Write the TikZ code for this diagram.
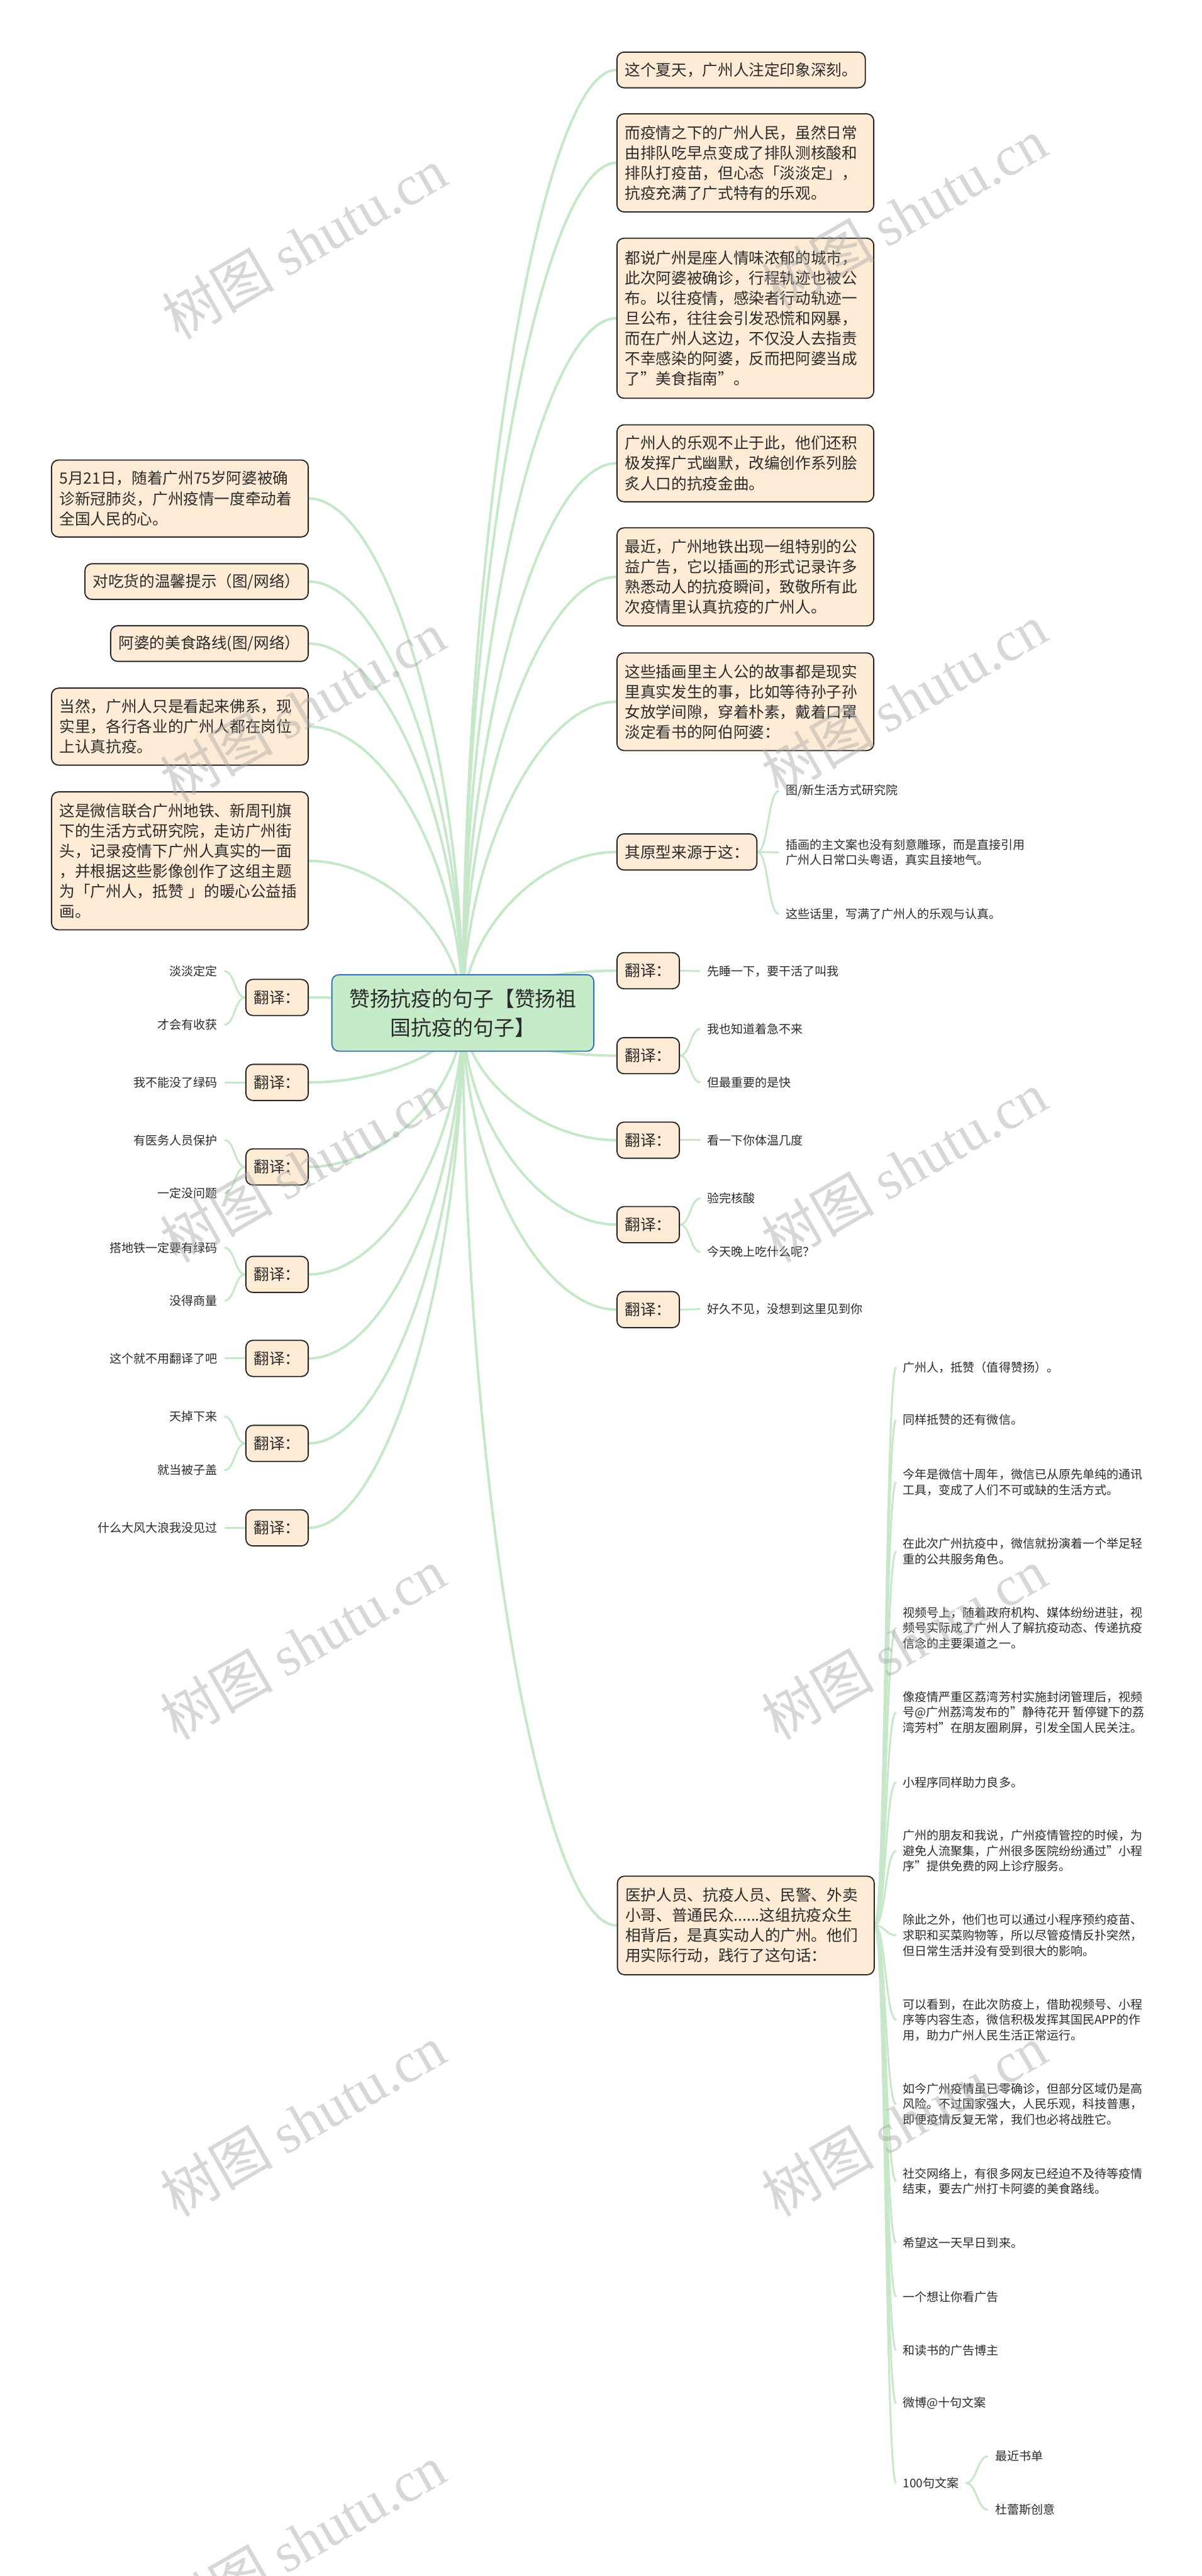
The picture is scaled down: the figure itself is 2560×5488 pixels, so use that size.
\documentclass[tikz,border=0pt]{standalone}
\usepackage{fontspec}
\setmainfont{Noto Sans CJK SC}
\newfontfamily\wmserif{Liberation Serif}
\usetikzlibrary{calc,backgrounds}
\definecolor{boxfill}{HTML}{FEEBD5}
\definecolor{boxline}{HTML}{262626}
\definecolor{rootfill}{HTML}{C5EBC9}
\definecolor{rootline}{HTML}{3471B8}
\definecolor{branch}{HTML}{C6E8C8}
\definecolor{txt}{HTML}{2B2B2B}
\definecolor{wmgray}{HTML}{A8A8A8}
\newcommand\mainfs{\fontsize{9.9}{12.9}\selectfont}
\newcommand\smallfs{\fontsize{7.65}{9.9}\selectfont}
\newcommand\rootfs{\fontsize{13.2}{18.6}\selectfont}
\begin{document}
\begin{tikzpicture}[x=0.3pt,y=-0.3pt,
  box/.style={draw=boxline, line width=0.75pt, fill=boxfill, rounded corners=4.5pt,
    inner xsep=5.1pt, inner ysep=0pt, align=left, font=\mainfs, text=txt},
  widebox/.style={box, text width=153.9pt},
  tbox/.style={box, minimum height=23.1pt},
  rootbox/.style={draw=rootline, line width=0.75pt, fill=rootfill, rounded corners=4.5pt,
    minimum width=167.4pt, minimum height=48.9pt, align=center, font=\rootfs, inner sep=0pt, text=txt},
  leaf/.style={inner xsep=4.2pt, inner ysep=0pt, font=\smallfs, align=left, text=txt},
  mainline/.style={draw=branch, line width=1.6pt},
  subline/.style={draw=branch, line width=1.2pt},
  rootcurve/.style={to path={.. controls ($(\tikztostart)!0.5!(\tikztostart |- \tikztotarget)$) and ($(\tikztostart |- \tikztotarget)!0.5!(\tikztotarget)$) .. (\tikztotarget) \tikztonodes}},
  scurve/.style={to path={.. controls ($(\tikztostart)!0.5!(\tikztostart -| \tikztotarget)$) and ($(\tikztotarget)!0.5!(\tikztotarget -| \tikztostart)$) .. (\tikztotarget) \tikztonodes}},
  wmark/.style={text=wmgray, opacity=0.45, font=\fontsize{36}{40}\selectfont, rotate=30, inner sep=0pt}
]
\begin{scope}[on background layer]
\fill[white] (0,0) rectangle (2560,5488);
\end{scope}
\useasboundingbox (0,0) rectangle (2560,5488);

% root
\node[rootbox] (root) at (986,2158) {赞扬抗疫的句子【赞扬祖\\国抗疫的句子】};

% right boxes
\node[box, anchor=west, minimum height=22.8pt] (R1) at (1313,149) {这个夏天，广州人注定印象深刻。};
\node[widebox, anchor=west, minimum height=62.7pt] (R2) at (1313,347) {而疫情之下的广州人民，虽然日常\\由排队吃早点变成了排队测核酸和\\排队打疫苗，但心态「淡淡定」，\\抗疫充满了广式特有的乐观。};
\node[widebox, anchor=west, minimum height=102.3pt] (R3) at (1313,678) {都说广州是座人情味浓郁的城市，\\此次阿婆被确诊，行程轨迹也被公\\布。以往疫情，感染者行动轨迹一\\旦公布，往往会引发恐慌和网暴，\\而在广州人这边，不仅没人去指责\\不幸感染的阿婆，反而把阿婆当成\\了"美食指南"。};
\node[widebox, anchor=west, minimum height=49.2pt] (R4) at (1313,987) {广州人的乐观不止于此，他们还积\\极发挥广式幽默，改编创作系列脍\\炙人口的抗疫金曲。};
\node[widebox, anchor=west, minimum height=62.7pt] (R5) at (1313,1229) {最近，广州地铁出现一组特别的公\\益广告，它以插画的形式记录许多\\熟悉动人的抗疫瞬间，致敬所有此\\次疫情里认真抗疫的广州人。};
\node[widebox, anchor=west, minimum height=62.4pt] (R6) at (1313,1495) {这些插画里主人公的故事都是现实\\里真实发生的事，比如等待孙子孙\\女放学间隙，穿着朴素，戴着口罩\\淡定看书的阿伯阿婆：};
\node[tbox, anchor=west] (Q) at (1313,1815) {其原型来源于这：};
\node[leaf, anchor=west] (q1) at (1659,1685) {图/新生活方式研究院};
\node[leaf, anchor=west] (q2) at (1659,1816) {插画的主文案也没有刻意雕琢，而是直接引用\\广州人日常口头粤语，真实且接地气。};
\node[leaf, anchor=west] (q3) at (1659,1947) {这些话里，写满了广州人的乐观与认真。};

% right translation boxes
\node[tbox, anchor=west] (T1) at (1313,2068) {翻译：};
\node[tbox, anchor=west] (T2) at (1313,2249) {翻译：};
\node[tbox, anchor=west] (T3) at (1313,2429) {翻译：};
\node[tbox, anchor=west] (T4) at (1313,2609) {翻译：};
\node[tbox, anchor=west] (T5) at (1313,2790) {翻译：};
\node[leaf, anchor=west] (t1) at (1492,2069) {先睡一下，要干活了叫我};
\node[leaf, anchor=west] (t2a) at (1492,2192) {我也知道着急不来};
\node[leaf, anchor=west] (t2b) at (1492,2306) {但最重要的是快};
\node[leaf, anchor=west] (t3) at (1492,2429) {看一下你体温几度};
\node[leaf, anchor=west] (t4a) at (1492,2553) {验完核酸};
\node[leaf, anchor=west] (t4b) at (1492,2667) {今天晚上吃什么呢？};
\node[leaf, anchor=west] (t5) at (1492,2789) {好久不见，没想到这里见到你};

% big box and its list
\node[widebox, anchor=west, minimum height=63pt] (B) at (1314,4102) {医护人员、抗疫人员、民警、外卖\\小哥、普通民众......这组抗疫众生\\相背后，是真实动人的广州。他们\\用实际行动，践行了这句话：};
\node[leaf, anchor=west] (b1) at (1909,2913) {广州人，抵赞（值得赞扬）。};
\node[leaf, anchor=west] (b2) at (1909,3025) {同样抵赞的还有微信。};
\node[leaf, anchor=west] (b3) at (1909,3158) {今年是微信十周年，微信已从原先单纯的通讯\\工具，变成了人们不可或缺的生活方式。};
\node[leaf, anchor=west] (b4) at (1909,3305) {在此次广州抗疫中，微信就扮演着一个举足轻\\重的公共服务角色。};
\node[leaf, anchor=west] (b5) at (1909,3468) {视频号上，随着政府机构、媒体纷纷进驻，视\\频号实际成了广州人了解抗疫动态、传递抗疫\\信念的主要渠道之一。};
\node[leaf, anchor=west] (b6) at (1909,3648) {像疫情严重区荔湾芳村实施封闭管理后，视频\\号@广州荔湾发布的"静待花开 暂停键下的荔\\湾芳村"在朋友圈刷屏，引发全国人民关注。};
\node[leaf, anchor=west] (b7) at (1909,3797) {小程序同样助力良多。};
\node[leaf, anchor=west] (b8) at (1909,3943) {广州的朋友和我说，广州疫情管控的时候，为\\避免人流聚集，广州很多医院纷纷通过"小程\\序"提供免费的网上诊疗服务。};
\node[leaf, anchor=west] (b9) at (1909,4123) {除此之外，他们也可以通过小程序预约疫苗、\\求职和买菜购物等，所以尽管疫情反扑突然，\\但日常生活并没有受到很大的影响。};
\node[leaf, anchor=west] (b10) at (1909,4303) {可以看到，在此次防疫上，借助视频号、小程\\序等内容生态，微信积极发挥其国民APP的作\\用，助力广州人民生活正常运行。};
\node[leaf, anchor=west] (b11) at (1909,4483) {如今广州疫情虽已零确诊，但部分区域仍是高\\风险。不过国家强大，人民乐观，科技普惠，\\即便疫情反复无常，我们也必将战胜它。};
\node[leaf, anchor=west] (b12) at (1909,4647) {社交网络上，有很多网友已经迫不及待等疫情\\结束，要去广州打卡阿婆的美食路线。};
\node[leaf, anchor=west] (b13) at (1909,4778) {希望这一天早日到来。};
\node[leaf, anchor=west] (b14) at (1909,4893) {一个想让你看广告};
\node[leaf, anchor=west] (b15) at (1909,5007) {和读书的广告博主};
\node[leaf, anchor=west] (b16) at (1909,5120) {微博@十句文案};
\node[leaf, anchor=west] (b17) at (1909,5290) {100句文案};
\node[leaf, anchor=west] (b17a) at (2105,5233) {最近书单};
\node[leaf, anchor=west] (b17b) at (2105,5347) {杜蕾斯创意};

% left boxes
\node[widebox, anchor=east, minimum height=49.2pt] (L1) at (658,1062) {5月21日，随着广州75岁阿婆被确\\诊新冠肺炎，广州疫情一度牵动着\\全国人民的心。};
\node[box, anchor=east, minimum height=22.8pt] (L2) at (658,1239) {对吃货的温馨提示（图/网络）};
\node[box, anchor=east, minimum height=22.8pt] (L3) at (658,1371) {阿婆的美食路线(图/网络）};
\node[widebox, anchor=east, minimum height=49.2pt] (L4) at (658,1548) {当然，广州人只是看起来佛系，现\\实里，各行各业的广州人都在岗位\\上认真抗疫。};
\node[widebox, anchor=east, minimum height=88.2pt] (L5) at (658,1834) {这是微信联合广州地铁、新周刊旗\\下的生活方式研究院，走访广州街\\头，记录疫情下广州人真实的一面\\，并根据这些影像创作了这组主题\\为「广州人，抵赞 」的暖心公益插\\画。};

% left translation boxes
\node[tbox, anchor=east] (LT1) at (658,2125) {翻译：};
\node[tbox, anchor=east] (LT2) at (658,2306) {翻译：};
\node[tbox, anchor=east] (LT3) at (658,2486) {翻译：};
\node[tbox, anchor=east] (LT4) at (658,2715) {翻译：};
\node[tbox, anchor=east] (LT5) at (658,2894) {翻译：};
\node[tbox, anchor=east] (LT6) at (658,3075) {翻译：};
\node[tbox, anchor=east] (LT7) at (658,3255) {翻译：};
\node[leaf, anchor=east] (l1a) at (478,2069) {淡淡定定};
\node[leaf, anchor=east] (l1b) at (478,2183) {才会有收获};
\node[leaf, anchor=east] (l2) at (478,2306) {我不能没了绿码};
\node[leaf, anchor=east] (l3a) at (478,2429) {有医务人员保护};
\node[leaf, anchor=east] (l3b) at (478,2542) {一定没问题};
\node[leaf, anchor=east] (l4a) at (478,2658) {搭地铁一定要有绿码};
\node[leaf, anchor=east] (l4b) at (478,2771) {没得商量};
\node[leaf, anchor=east] (l5) at (478,2894) {这个就不用翻译了吧};
\node[leaf, anchor=east] (l6a) at (478,3018) {天掉下来};
\node[leaf, anchor=east] (l6b) at (478,3132) {就当被子盖};
\node[leaf, anchor=east] (l7) at (478,3255) {什么大风大浪我没见过};

% connectors
\begin{scope}[on background layer]
\foreach \n in {R1,R2,R3,R4,R5,R6,Q,T1,T2,T3,T4,T5,B}
  \draw[mainline] (root.center) to[rootcurve] (\n.west);
\foreach \n in {L1,L2,L3,L4,L5,LT1,LT2,LT3,LT4,LT5,LT6,LT7}
  \draw[mainline] (root.center) to[rootcurve] (\n.east);
\foreach \n in {q1,q2,q3}
  \draw[subline] (Q.east) to[scurve] (\n.west);
\draw[subline] (T1.east) to[scurve] (t1.west);
\draw[subline] (T2.east) to[scurve] (t2a.west);
\draw[subline] (T2.east) to[scurve] (t2b.west);
\draw[subline] (T3.east) to[scurve] (t3.west);
\draw[subline] (T4.east) to[scurve] (t4a.west);
\draw[subline] (T4.east) to[scurve] (t4b.west);
\draw[subline] (T5.east) to[scurve] (t5.west);
\foreach \n in {b1,b2,b3,b4,b5,b6,b7,b8,b9,b10,b11,b12,b13,b14,b15,b16,b17}
  \draw[subline] (B.east) to[scurve] (\n.west);
\draw[subline] (b17.east) to[scurve] (b17a.west);
\draw[subline] (b17.east) to[scurve] (b17b.west);
\draw[subline] (LT1.west) to[scurve] (l1a.east);
\draw[subline] (LT1.west) to[scurve] (l1b.east);
\draw[subline] (LT2.west) to[scurve] (l2.east);
\draw[subline] (LT3.west) to[scurve] (l3a.east);
\draw[subline] (LT3.west) to[scurve] (l3b.east);
\draw[subline] (LT4.west) to[scurve] (l4a.east);
\draw[subline] (LT4.west) to[scurve] (l4b.east);
\draw[subline] (LT5.west) to[scurve] (l5.east);
\draw[subline] (LT6.west) to[scurve] (l6a.east);
\draw[subline] (LT6.west) to[scurve] (l6b.east);
\draw[subline] (LT7.west) to[scurve] (l7.east);
\end{scope}

% watermarks
\node[wmark] (w1) at (648,518) {树图 {\wmserif shutu.cn}};
\node[wmark] (w2) at (1926,455) {树图 {\wmserif shutu.cn}};
\node[wmark] (w3) at (645,1506) {树图 {\wmserif shutu.cn}};
\node[wmark] (w4) at (1926,1490) {树图 {\wmserif shutu.cn}};
\node[wmark] (w5) at (645,2486) {树图 {\wmserif shutu.cn}};
\node[wmark] (w6) at (1926,2486) {树图 {\wmserif shutu.cn}};
\node[wmark] (w7) at (645,3502) {树图 {\wmserif shutu.cn}};
\node[wmark] (w8) at (1926,3502) {树图 {\wmserif shutu.cn}};
\node[wmark] (w9) at (645,4518) {树图 {\wmserif shutu.cn}};
\node[wmark] (w10) at (1926,4518) {树图 {\wmserif shutu.cn}};
\node[wmark] (w11) at (645,5411) {树图 {\wmserif shutu.cn}};
\end{tikzpicture}
\end{document}
